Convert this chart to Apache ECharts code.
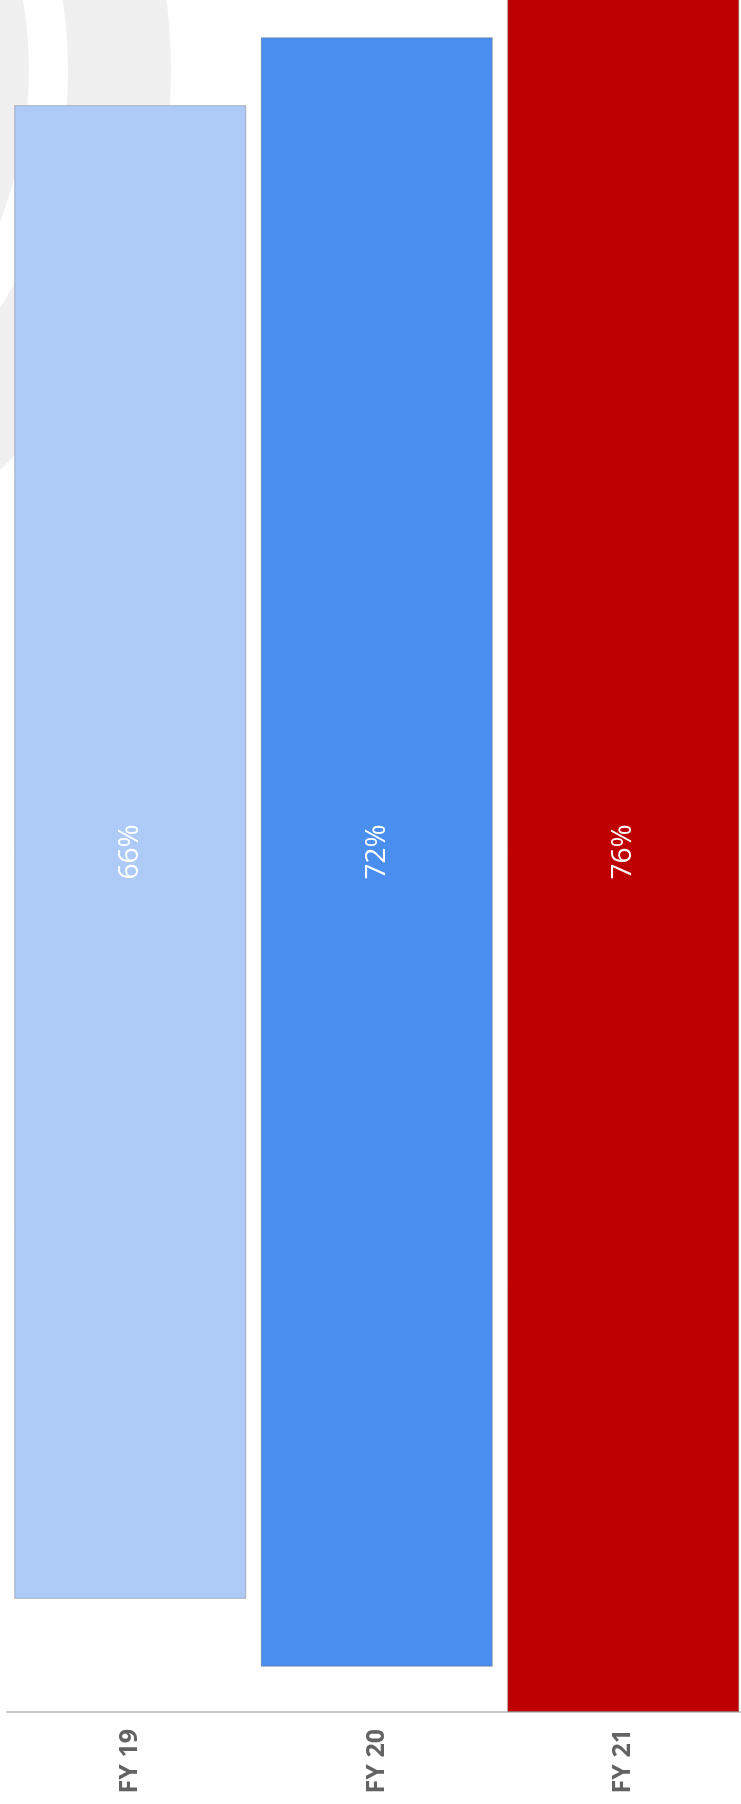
<!DOCTYPE html>
<html>
<head>
<meta charset="utf-8">
<title>FY share</title>
<script src="https://cdn.jsdelivr.net/npm/echarts@6/dist/echarts.min.js"></script>
<style>
  html, body { margin: 0; padding: 0; background: #ffffff; overflow: hidden; }
  #chart { width: 741px; height: 1804px; }
</style>
</head>
<body>
<div id="chart"></div>
<script>
// Fiscal years and their percentages
const categories = ['FY 19', 'FY 20', 'FY 21'];
const values = [66, 72, 76];
const barColors = ['#AECBF7', '#4A8FEF', '#BF0000'];

// Bars are centred vertically: an invisible spacer lifts each bar by half the gap to the tallest one
const peak = Math.max(...values);
const spacers = values.map(v => (peak - v) / 2);

const chart = echarts.init(document.getElementById('chart'), null, { renderer: 'canvas' });

chart.setOption({
  animation: false,
  backgroundColor: '#ffffff',
  graphic: [
    // faint watermark rings in the upper-left corner
    { type: 'ring', z: 0, silent: true, shape: { cx: -382, cy: 70, r: 411, r0: 330 }, style: { fill: '#f0f0f0' } },
    { type: 'ring', z: 0, silent: true, shape: { cx: -382, cy: 70, r: 553, r0: 450 }, style: { fill: '#f0f0f0' } }
  ],
  grid: {
    left: 7, right: -5.5, top: -8, bottom: 92,
    containLabel: false,
    outerBoundsMode: 'none'
  },
  xAxis: {
    type: 'category',
    data: categories,
    axisLine: { show: true, lineStyle: { color: '#c8c8c8', width: 2 } },
    axisTick: { show: false },
    axisLabel: {
      rotate: 90,
      margin: 17,
      color: '#636363',
      fontFamily: '"Open Sans", "Liberation Sans", sans-serif',
      fontWeight: 'bold',
      fontSize: 25,
      padding: [5, 0, 0, 0]
    }
  },
  yAxis: {
    type: 'value',
    min: 0,
    max: peak,
    show: false,
    splitLine: { show: false }
  },
  series: [
    {
      type: 'bar',
      stack: 'total',
      data: spacers,
      barWidth: 232,
      itemStyle: { color: 'rgba(0,0,0,0)' },
      silent: true,
      z: 2
    },
    {
      type: 'bar',
      stack: 'total',
      barWidth: 232,
      z: 3,
      data: values.map((v, i) => ({
        value: v,
        itemStyle: {
          color: barColors[i],
          borderColor: 'rgba(110,110,110,0.45)',
          borderWidth: 1
        }
      })),
      label: {
        show: true,
        position: 'inside',
        rotate: 90,
        color: '#ffffff',
        fontFamily: '"Open Sans", "Liberation Sans", sans-serif',
        fontSize: 28,
        formatter: p => p.value + '%'
      }
    }
  ]
});
</script>
</body>
</html>
